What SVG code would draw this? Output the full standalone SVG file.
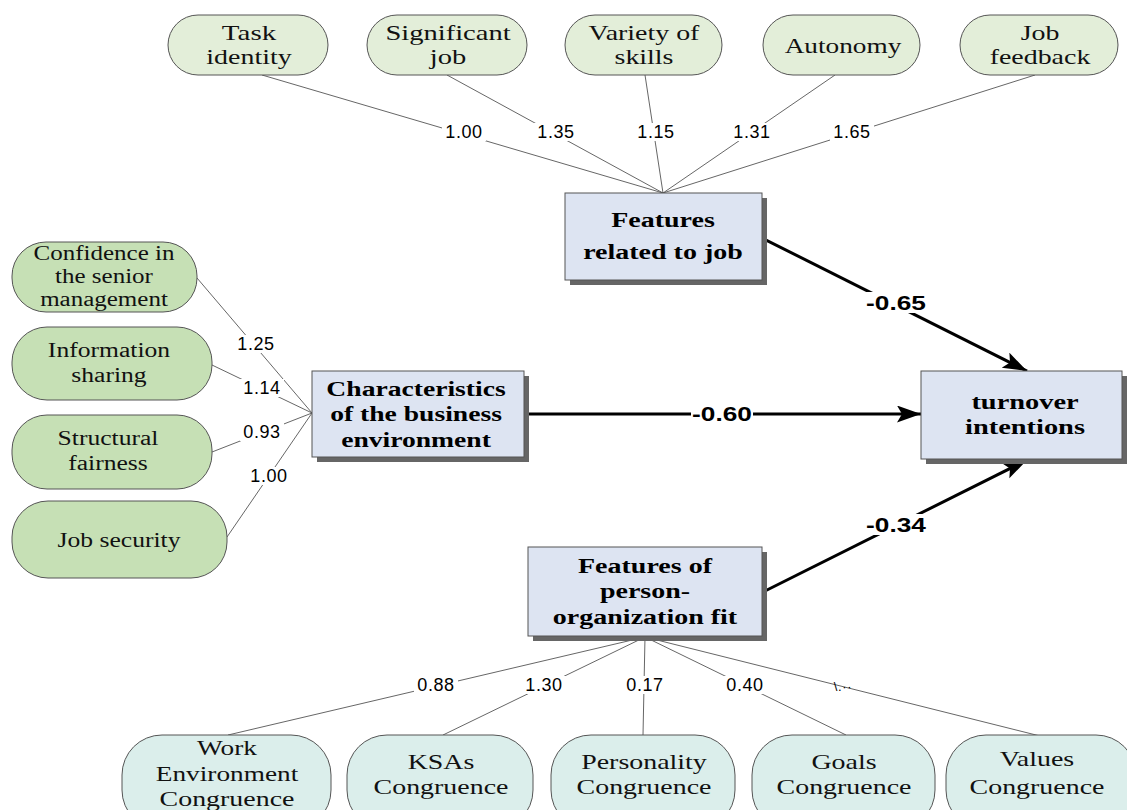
<svg xmlns="http://www.w3.org/2000/svg" width="1127" height="810" viewBox="0 0 1127 810">
<style>
.top{fill:#e3eed9;stroke:#555;stroke-width:1}
.left{fill:#c6e0b5;stroke:#555;stroke-width:1}
.bot{fill:#dbeeeb;stroke:#555;stroke-width:1}
.box{fill:#dde4f2;stroke:#555;stroke-width:1}
.shadow{fill:#666}
.et{font-family:"Liberation Serif","Times New Roman",serif;font-size:21px;text-anchor:middle;fill:#111}
.lt{font-family:"Liberation Serif","Times New Roman",serif;font-size:20px;text-anchor:middle;fill:#111}
.bt{font-family:"Liberation Serif","Times New Roman",serif;font-size:20px;font-weight:bold;text-anchor:middle;fill:#000}
.thin{stroke:#555;stroke-width:0.9;fill:none}
.thick{stroke:#000;stroke-width:3;fill:none}
.bg{fill:#fff}
.num{font-family:"Liberation Sans",Arial,sans-serif;font-size:18px;letter-spacing:0.6px;text-anchor:middle;fill:#000}
.bnum{font-family:"Liberation Sans",Arial,sans-serif;font-size:21px;font-weight:bold;text-anchor:middle;fill:#000}
</style>
<defs>
<marker id="ah" markerUnits="userSpaceOnUse" markerWidth="26" markerHeight="18" refX="24" refY="8.5" orient="auto">
<path d="M0,0 L24,8.5 L0,17 L5,8.5 z" fill="#000"/>
</marker>
</defs>

<g id="connectors">
<line class="thin" x1="262" y1="75" x2="663" y2="193"/>
<line class="thin" x1="447" y1="75" x2="663" y2="193"/>
<line class="thin" x1="645" y1="75" x2="663" y2="193"/>
<line class="thin" x1="835" y1="75" x2="663" y2="193"/>
<line class="thin" x1="1035" y1="75" x2="663" y2="193"/>
<line class="thin" x1="197" y1="278" x2="312" y2="413"/>
<line class="thin" x1="212" y1="365" x2="312" y2="413"/>
<line class="thin" x1="212" y1="452" x2="312" y2="413"/>
<line class="thin" x1="227" y1="537" x2="312" y2="413"/>
<line class="thin" x1="645" y1="637" x2="228" y2="735"/>
<line class="thin" x1="645" y1="637" x2="443" y2="735"/>
<line class="thin" x1="645" y1="637" x2="643" y2="735"/>
<line class="thin" x1="645" y1="637" x2="846" y2="735"/>
<line class="thin" x1="645" y1="637" x2="1040" y2="736"/>
<line class="thick" x1="762" y1="238" x2="1027" y2="371" marker-end="url(#ah)"/>
<line class="thick" x1="524" y1="414" x2="921" y2="414" marker-end="url(#ah)"/>
<line class="thick" x1="763" y1="592" x2="1027" y2="460" marker-end="url(#ah)"/>
<rect class="bg" x="442" y="123" width="44" height="18"/><text class="num" x="464" y="138">1.00</text>
<rect class="bg" x="534" y="123" width="44" height="18"/><text class="num" x="556" y="138">1.35</text>
<rect class="bg" x="634" y="123" width="44" height="18"/><text class="num" x="656" y="138">1.15</text>
<rect class="bg" x="730" y="123" width="44" height="18"/><text class="num" x="752" y="138">1.31</text>
<rect class="bg" x="830" y="123" width="44" height="18"/><text class="num" x="852" y="138">1.65</text>
<rect class="bg" x="234" y="335" width="44" height="18"/><text class="num" x="256" y="350">1.25</text>
<rect class="bg" x="240" y="379" width="44" height="18"/><text class="num" x="262" y="394">1.14</text>
<rect class="bg" x="240" y="423" width="44" height="18"/><text class="num" x="262" y="438">0.93</text>
<rect class="bg" x="247" y="467" width="44" height="18"/><text class="num" x="269" y="482">1.00</text>
<rect class="bg" x="414" y="676" width="44" height="18"/><text class="num" x="436" y="691">0.88</text>
<rect class="bg" x="522" y="676" width="44" height="18"/><text class="num" x="544" y="691">1.30</text>
<rect class="bg" x="623" y="676" width="44" height="18"/><text class="num" x="645" y="691">0.17</text>
<rect class="bg" x="723" y="676" width="44" height="18"/><text class="num" x="745" y="691">0.40</text>
<text class="num" x="843" y="691" style="font-size:13px">\.··</text>
<rect class="bg" x="864" y="292" width="64" height="21"/><text class="bnum" transform="translate(896,310) scale(1.25,1)">-0.65</text>
<rect class="bg" x="691" y="404" width="62" height="20"/><text class="bnum" transform="translate(722,421) scale(1.25,1)">-0.60</text>
<rect class="bg" x="864" y="514" width="64" height="21"/><text class="bnum" transform="translate(896,532) scale(1.25,1)">-0.34</text>
</g>

<g id="task-identity"><rect class="top" x="168" y="15" width="160" height="60" rx="30"/><text class="et" transform="translate(249,40) scale(1.38,1)">Task</text><text class="et" transform="translate(249,64) scale(1.33,1)">identity</text></g>
<g id="significant-job"><rect class="top" x="367" y="15" width="160" height="60" rx="30"/><text class="et" transform="translate(448,40) scale(1.36,1)">Significant</text><text class="et" transform="translate(448,64) scale(1.36,1)">job</text></g>
<g id="variety-of-skills"><rect class="top" x="565" y="15" width="157" height="60" rx="30"/><text class="et" transform="translate(644,40) scale(1.33,1)">Variety of</text><text class="et" transform="translate(644,64) scale(1.33,1)">skills</text></g>
<g id="autonomy"><rect class="top" x="763" y="15" width="157" height="60" rx="30"/><text class="et" transform="translate(843,53) scale(1.3,1)">Autonomy</text></g>
<g id="job-feedback"><rect class="top" x="960" y="15" width="158" height="60" rx="30"/><text class="et" transform="translate(1040,40) scale(1.33,1)">Job</text><text class="et" transform="translate(1040,64) scale(1.33,1)">feedback</text></g>

<g id="confidence"><rect class="left" x="12" y="242" width="185" height="70" rx="34"/><text class="lt" transform="translate(104,260) scale(1.25,1)">Confidence in</text><text class="lt" transform="translate(104,283) scale(1.25,1)">the senior</text><text class="lt" transform="translate(104,306) scale(1.25,1)">management</text></g>
<g id="information-sharing"><rect class="left" x="12" y="327" width="200" height="73" rx="35"/><text class="lt" transform="translate(109,357) scale(1.28,1)">Information</text><text class="lt" transform="translate(109,382) scale(1.28,1)">sharing</text></g>
<g id="structural-fairness"><rect class="left" x="12" y="415" width="200" height="74" rx="35"/><text class="lt" transform="translate(108,445) scale(1.28,1)">Structural</text><text class="lt" transform="translate(108,470) scale(1.28,1)">fairness</text></g>
<g id="job-security"><rect class="left" x="12" y="501" width="215" height="77" rx="36"/><text class="lt" transform="translate(119,547) scale(1.28,1)">Job security</text></g>

<g id="features-job"><rect class="shadow" x="570" y="198" width="197" height="87"/><rect class="box" x="565" y="193" width="197" height="87"/><text class="bt" transform="translate(663,227) scale(1.4,1)">Features</text><text class="bt" transform="translate(663,259) scale(1.4,1)">related to job</text></g>
<g id="characteristics"><rect class="shadow" x="317" y="376" width="212" height="86"/><rect class="box" x="312" y="371" width="212" height="86"/><text class="bt" transform="translate(416,396) scale(1.38,1)">Characteristics</text><text class="bt" transform="translate(416,421) scale(1.38,1)">of the business</text><text class="bt" transform="translate(416,447) scale(1.38,1)">environment</text></g>
<g id="turnover"><rect class="shadow" x="926" y="376" width="201" height="88"/><rect class="box" x="921" y="371" width="201" height="88"/><text class="bt" transform="translate(1025,409) scale(1.42,1)">turnover</text><text class="bt" transform="translate(1025,434) scale(1.42,1)">intentions</text></g>
<g id="po-fit"><rect class="shadow" x="533" y="552" width="234" height="89"/><rect class="box" x="528" y="547" width="234" height="89"/><text class="bt" transform="translate(645,573) scale(1.4,1)">Features of</text><text class="bt" transform="translate(645,598) scale(1.4,1)">person-</text><text class="bt" transform="translate(645,624) scale(1.4,1)">organization fit</text></g>

<g id="work-environment"><rect class="bot" x="122" y="735" width="209" height="95" rx="40"/><text class="et" transform="translate(227,755) scale(1.3,1)">Work</text><text class="et" transform="translate(227,781) scale(1.3,1)">Environment</text><text class="et" transform="translate(227,806) scale(1.33,1)">Congruence</text></g>
<g id="ksas"><rect class="bot" x="347" y="735" width="186" height="95" rx="40"/><text class="et" transform="translate(441,769) scale(1.33,1)">KSAs</text><text class="et" transform="translate(441,794) scale(1.33,1)">Congruence</text></g>
<g id="personality"><rect class="bot" x="551" y="735" width="184" height="95" rx="40"/><text class="et" transform="translate(644,769) scale(1.33,1)">Personality</text><text class="et" transform="translate(644,794) scale(1.33,1)">Congruence</text></g>
<g id="goals"><rect class="bot" x="752" y="735" width="183" height="95" rx="40"/><text class="et" transform="translate(844,769) scale(1.33,1)">Goals</text><text class="et" transform="translate(844,794) scale(1.33,1)">Congruence</text></g>
<g id="values"><rect class="bot" x="946" y="735" width="190" height="95" rx="40"/><text class="et" transform="translate(1037,766) scale(1.33,1)">Values</text><text class="et" transform="translate(1037,794) scale(1.33,1)">Congruence</text></g>
</svg>
